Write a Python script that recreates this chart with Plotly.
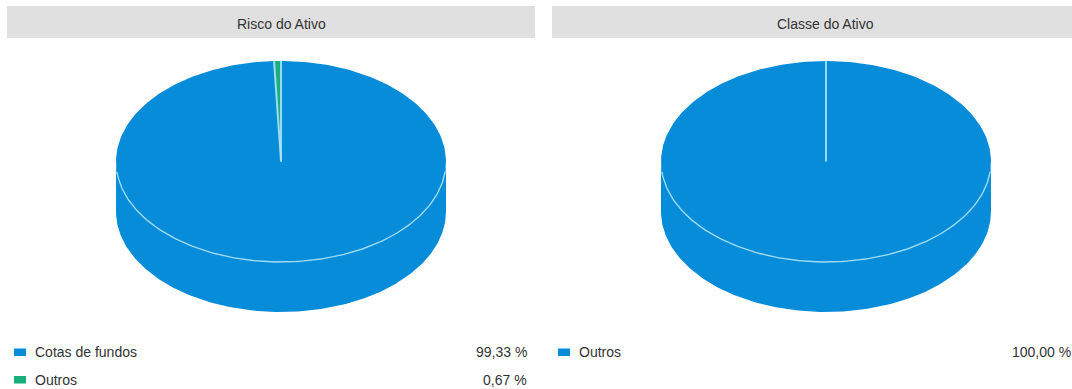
import numpy as np
import plotly.graph_objects as go

risk_title = "Risco do Ativo"
risk_labels = ["Cotas de fundos", "Outros"]
risk_values = [99.33, 0.67]
risk_text = ["99,33 %", "0,67 %"]

class_title = "Classe do Ativo"
class_labels = ["Outros"]
class_values = [100.0]
class_text = ["100,00 %"]

BLUE = "#068cd8"
GREEN = "#17b07c"
SEAM = "rgba(170,225,245,0.9)"
TEXT = "#333333"
FONT = "Liberation Sans"

fig = go.Figure()
shapes, annotations = [], []


def ell(cx, cy, rx, ry, t):
    return cx + rx * np.sin(t), cy - ry * np.cos(t)


def draw_pie(cx, labels, values, colors):
    cy, rx, ry, depth = 161.5, 165, 100.5, 50
    # side wall
    t = np.linspace(np.pi / 2, 3 * np.pi / 2, 200)
    x, y = ell(cx, cy, rx, ry, t)
    fig.add_trace(go.Scatter(
        x=np.r_[x, x[::-1]], y=np.r_[y + depth, y[::-1]],
        mode="lines", fill="toself", fillcolor=colors[0],
        line=dict(color=colors[0], width=0), hoverinfo="skip", showlegend=False))
    # top slices
    fractions = np.cumsum([0] + list(values)) / sum(values)
    for i, label in enumerate(labels):
        t = 2 * np.pi * np.linspace(fractions[i], fractions[i + 1], 360)
        x, y = ell(cx, cy, rx, ry, t)
        fig.add_trace(go.Scatter(
            x=np.r_[cx, x, cx], y=np.r_[cy, y, cy],
            mode="lines", fill="toself", fillcolor=colors[i],
            line=dict(color=colors[i], width=0), name=label,
            hoverinfo="name", showlegend=False))
    # seams between slices
    for f in fractions[:-1] if len(values) > 1 else fractions[:1]:
        x, y = ell(cx, cy, rx, ry, 2 * np.pi * f)
        fig.add_trace(go.Scatter(
            x=[cx, x], y=[cy, y], mode="lines",
            line=dict(color=SEAM, width=2), hoverinfo="skip", showlegend=False))
    # front rim
    t = np.linspace(np.pi / 2 + 0.1, 3 * np.pi / 2 - 0.1, 200)
    x, y = ell(cx, cy, rx, ry, t)
    fig.add_trace(go.Scatter(
        x=x, y=y, mode="lines", line=dict(color=SEAM, width=1.4),
        hoverinfo="skip", showlegend=False))


def panel(x0, x1, title, title_x, labels, text, colors, swatch_x, text_x, value_x):
    shapes.append(dict(type="rect", x0=x0, x1=x1, y0=6, y1=38,
                       fillcolor="#e0e0e0", line_width=0, layer="below"))
    annotations.append(dict(x=title_x, y=24, text=title, showarrow=False,
                            xanchor="center", yanchor="middle",
                            font=dict(size=14, color=TEXT, family=FONT)))
    for i, label in enumerate(labels):
        y = 352 + i * 27.5
        shapes.append(dict(type="rect", x0=swatch_x, x1=swatch_x + 12, y0=y - 3.5, y1=y + 4,
                           fillcolor=colors[i], line_width=0))
        annotations.append(dict(x=text_x, y=y, text=label, showarrow=False,
                                xanchor="left", yanchor="middle", xshift=-2,
                                font=dict(size=14, color=TEXT, family=FONT)))
        annotations.append(dict(x=value_x, y=y, text=text[i], showarrow=False,
                                xanchor="right", yanchor="middle", xshift=2,
                                font=dict(size=14, color=TEXT, family=FONT)))


draw_pie(281, risk_labels, risk_values, [BLUE, GREEN])
draw_pie(826, class_labels, class_values, [BLUE])
panel(7, 535, risk_title, 281.5, risk_labels, risk_text, [BLUE, GREEN], 14, 35, 527)
panel(552, 1072, class_title, 825.5, class_labels, class_text, [BLUE], 558, 579, 1071)

fig.update_layout(
    width=1072, height=389, margin=dict(l=0, r=0, t=0, b=0),
    paper_bgcolor="white", plot_bgcolor="white", showlegend=False,
    shapes=shapes, annotations=annotations,
    xaxis=dict(range=[0, 1072], visible=False, fixedrange=True),
    yaxis=dict(range=[389, 0], visible=False, fixedrange=True),
)
fig.write_html("out.html", config=dict(displayModeBar=False),
               post_script="document.body.style.margin='0';document.body.style.overflow='hidden';")
